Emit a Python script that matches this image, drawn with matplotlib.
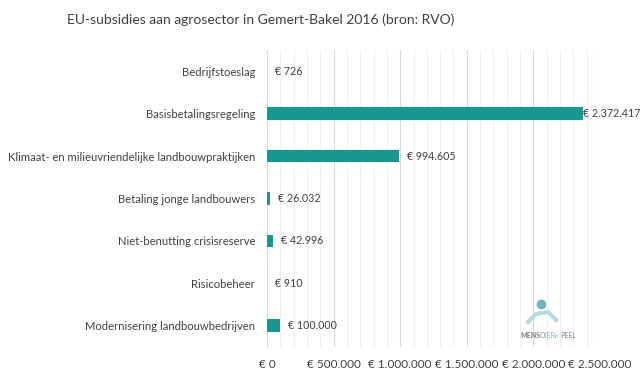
import matplotlib.pyplot as plt
from matplotlib.ticker import MultipleLocator, FuncFormatter

# data
categorieen = ["Bedrijfstoeslag", "Basisbetalingsregeling",
               "Klimaat- en milieuvriendelijke landbouwpraktijken",
               "Betaling jonge landbouwers", "Niet-benutting crisisreserve",
               "Risicobeheer", "Modernisering landbouwbedrijven"]
bedragen = [726, 2372417, 994605, 26032, 42996, 910, 100000]
labels = ["€ 726", "€ 2.372.417", "€ 994.605", "€ 26.032", "€ 42.996", "€ 910", "€ 100.000"]

plt.rcParams['font.family'] = ['Lato', 'DejaVu Sans']
tekst = '#404040'

fig = plt.figure(figsize=(6.43, 3.78), dpi=100)
ax = fig.add_axes([267/643, 1 - 347/378, (600 - 267)/643, (347 - 50)/378])

y = list(range(len(categorieen)))
ax.barh(y, bedragen, height=0.3, color='#14988f', zorder=3)
grootste = max(bedragen)
for yi, v, l in zip(y, bedragen, labels):
    # langste label past niet meer, staat direct tegen de balk
    x = v if v == grootste else v + 60000
    ax.text(x, yi, l, va='center', ha='left', fontsize=7.7, color=tekst, zorder=4)

ax.set_ylim(len(categorieen) - 0.5, -0.5)
ax.set_xlim(0, 2500000)
ax.set_yticks(y)
ax.set_yticklabels(categorieen, fontsize=8.1, color=tekst)
ax.tick_params(axis='y', length=0, pad=8.5)

ax.xaxis.set_major_locator(MultipleLocator(500000))
ax.xaxis.set_minor_locator(MultipleLocator(100000))
ax.xaxis.set_major_formatter(FuncFormatter(lambda x, p: "€ " + f"{int(x):,}".replace(",", ".")))
ax.tick_params(axis='x', which='both', length=0, labelsize=8.5, labelcolor=tekst, pad=9)
ax.grid(axis='x', which='major', color='#d9d9d9', lw=0.8, zorder=0)
ax.grid(axis='x', which='minor', color='#efefef', lw=0.8, zorder=0)
for s in ax.spines.values():
    s.set_visible(False)

fig.text(261/643, 1 - 20/378, "EU-subsidies aan agrosector in Gemert-Bakel 2016 (bron: RVO)",
         ha='center', va='center', fontsize=10, color=tekst)

# logo
fig.text(520/643, 1 - 336/378, "MENS", ha='left', va='center', fontsize=5, color='#7a7a7a', weight='bold')
fig.text(539/643, 1 - 336/378, "DIER", ha='left', va='center', fontsize=5, color='#8cc3d6', weight='bold')
fig.text(555/643, 1 - 336/378, "in", ha='left', va='center', fontsize=4, color='#8cc3d6')
fig.text(560/643, 1 - 336/378, "PEEL", ha='left', va='center', fontsize=5, color='#8fa5b0', weight='bold')
fig.lines.append(plt.Line2D([541/643], [1 - 304/378], marker='o', ms=6, color='#6fb3c9',
                            transform=fig.transFigure))
fig.lines.append(plt.Line2D([528/643, 536/643, 548/643, 556/643],
                            [1 - 322/378, 1 - 314/378, 1 - 312/378, 1 - 320/378],
                            lw=3, color='#b8d8e2', transform=fig.transFigure))

fig.savefig("out.png", dpi=100)
